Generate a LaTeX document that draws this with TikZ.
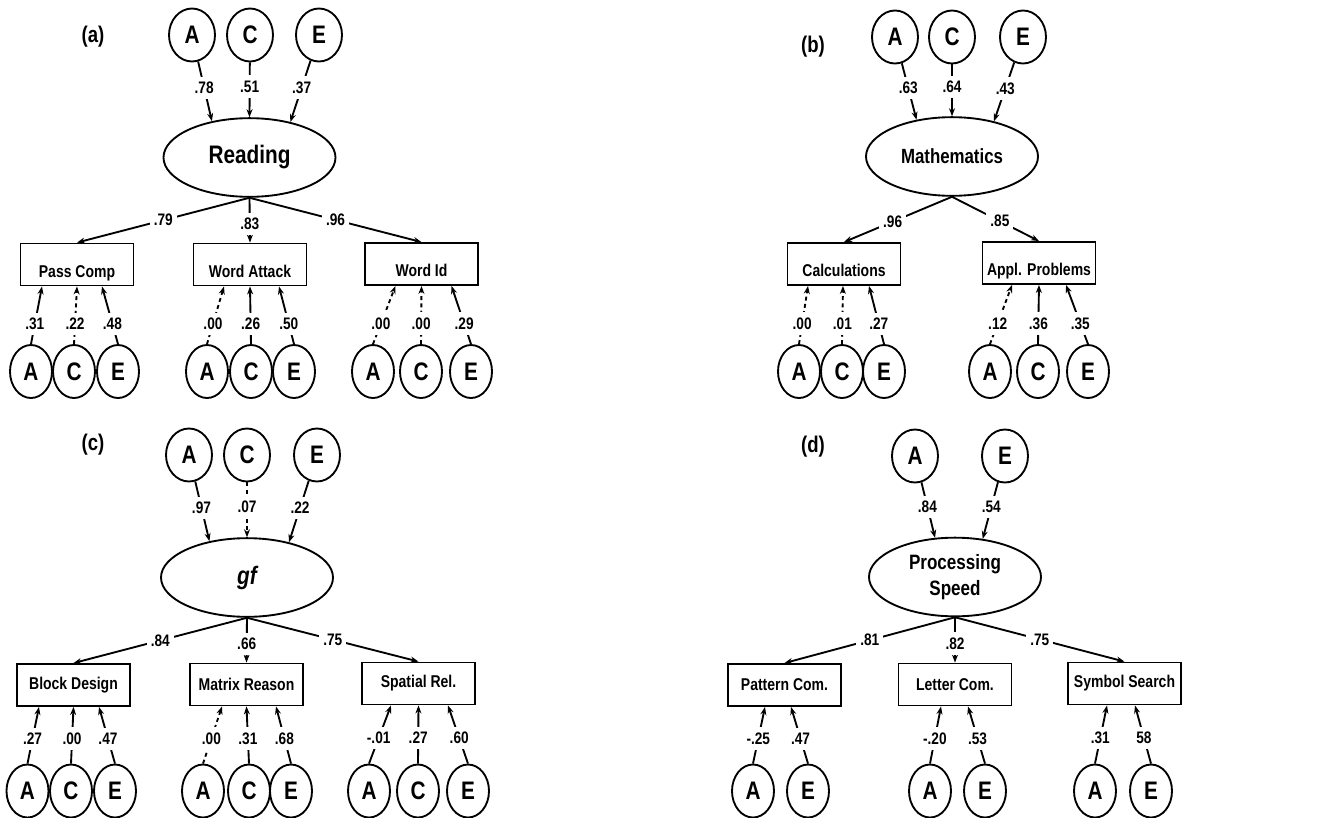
\documentclass[tikz,border=0pt]{standalone}
\usepackage{fontspec}
\setmainfont{Liberation Sans}[FakeStretch=0.82]
\usepackage{tikz}
\usetikzlibrary{shapes,arrows.meta,positioning,calc}

\begin{document}
\begin{tikzpicture}[x=0.75pt, y=-0.75pt, line width=1.4pt,
    topc/.style={draw, ellipse, minimum width=34.5pt, minimum height=39.75pt, inner sep=0pt, font=\fontsize{19}{19}\selectfont\bfseries},
    botc/.style={topc, minimum width=31.5pt},
    latent/.style={draw, ellipse, minimum width=129pt, minimum height=59pt, inner sep=0pt, align=center, font=\fontsize{19}{19}\selectfont\bfseries},
    obs/.style={draw, rectangle, minimum width=84.75pt, minimum height=31.5pt, inner sep=1pt, font=\fontsize{12.8}{13}\selectfont\bfseries},
    lowtext/.style={text height=21pt, text depth=2pt},
    lbl/.style={fill=white, inner xsep=3pt, inner ysep=4pt, font=\fontsize{12.5}{12.5}\selectfont\bfseries},
    paneltag/.style={font=\fontsize{17}{17}\selectfont\bfseries},
    arr/.style={-{Stealth[length=6pt,width=4.5pt]}},
    dsh/.style={dash pattern=on 3pt off 2.5pt}]
    \useasboundingbox (0,0) rectangle (1329,818);

    % (a) reading
    \node[paneltag] (taga) at (93,37) {(a)};
    \node[topc] (aA) at (192,35) {A};
    \node[topc] (aC) at (250,35) {C};
    \node[topc] (aE) at (319,35) {E};
    \node[latent] (read) at (249.5,157.5) {Reading};
    \node[obs, lowtext] (pc) at (77,264.5) {Pass Comp};
    \node[obs, lowtext] (wa) at (250,264.5) {Word Attack};
    \node[obs, lowtext] (wi) at (421.5,264) {Word Id};
    \draw[arr] (aA) -- node[lbl,pos=.44]{.78} (read.136);
    \draw[arr] (aC) -- node[lbl,pos=.44]{.51} (read.north);
    \draw[arr] (aE) -- node[lbl,pos=.44]{.37} (read.41);
    \draw[arr] (read.south) -- node[lbl,pos=.5]{.79} (pc.north);
    \draw[arr] (read.south) -- node[lbl,pos=.58]{.83} (wa.north);
    \draw[arr] (read.south) -- node[lbl,pos=.5]{.96} (wi.north);

    % (b) mathematics
    \node[paneltag] (tagb) at (813,47) {(b)};
    \node[topc] (bA) at (895,37) {A};
    \node[topc] (bC) at (952,37) {C};
    \node[topc] (bE) at (1023,37) {E};
    \node[latent, font=\fontsize{15.4}{16}\selectfont\bfseries] (math) at (952,156.5) {Mathematics};
    \node[obs, lowtext] (calc) at (844,264) {Calculations};
    \node[obs, lowtext] (appl) at (1039,263) {Appl. Problems};
    \draw[arr] (bA) -- node[lbl,pos=.44]{.63} (math.134);
    \draw[arr] (bC) -- node[lbl,pos=.44]{.64} (math.north);
    \draw[arr] (bE) -- node[lbl,pos=.44]{.43} (math.40);
    \draw[arr] (math.south) -- node[lbl,pos=.55]{.96} (calc.north);
    \draw[arr] (math.south) -- node[lbl,pos=.55]{.85} (appl.north);

    % ACE under the measures, top row
    \foreach \bx/\cx/\lt/\dx/\st/\val in {
        pc/31/A/-35/solid/.31, pc/74/C/0/dsh/.22, pc/118/E/25/solid/.48,
        wa/207/A/-26/dsh/.00, wa/251/C/0/solid/.26, wa/294/E/29/solid/.50,
        wi/373/A/-26/dsh/.00, wi/421/C/0/dsh/.00, wi/471/E/30/solid/.29,
        calc/799/A/-36/dsh/.00, calc/842/C/-1/dsh/.01, calc/884/E/25/solid/.27,
        appl/990/A/-27/dsh/.12, appl/1038/C/0/solid/.36, appl/1088/E/27/solid/.35} {
        \node[botc] (\bx\lt) at (\cx,371.5) {\lt};
        \draw[arr,\st] (\bx\lt.north) -- node[lbl,pos=.35]{\val} ([xshift=\dx*0.75pt]\bx.south);
    }

    % (c) gf
    \node[paneltag] (tagc) at (93,445) {(c)};
    \node[topc] (cA) at (189,455) {A};
    \node[topc] (cC) at (247,455) {C};
    \node[topc] (cE) at (317,455) {E};
    \node[latent, font=\fontsize{19}{19}\selectfont\bfseries\itshape] (gf) at (247,577.5) {gf};
    \node[obs] (bd) at (73.5,685) {Block Design};
    \node[obs] (mr) at (246.5,684.5) {Matrix Reason};
    \node[obs] (sr) at (418.5,683.5) {Spatial Rel.};
    \draw[arr] (cA) -- node[lbl,pos=.44]{.97} (gf.136);
    \draw[arr,dsh] (cC) -- node[lbl,pos=.44]{.07} (gf.north);
    \draw[arr] (cE) -- node[lbl,pos=.44]{.22} (gf.40);
    \draw[arr] (gf.south) -- node[lbl,pos=.5]{.84} (bd.north);
    \draw[arr] (gf.south) -- node[lbl,pos=.58]{.66} (mr.north);
    \draw[arr] (gf.south) -- node[lbl,pos=.5]{.75} (sr.north);

    % (d) processing speed
    \node[paneltag] (tagd) at (813,447) {(d)};
    \node[topc] (dA) at (915,456) {A};
    \node[topc] (dE) at (1005,456) {E};
    \node[latent, font=\fontsize{15.6}{19}\selectfont\bfseries] (ps) at (955,577) {Processing\\Speed};
    \node[obs] (pat) at (784.5,685) {Pattern Com.};
    \node[obs] (let) at (955,684.5) {Letter Com.};
    \node[obs] (sym) at (1124.5,683.5) {Symbol Search};
    \draw[arr] (dA) -- node[lbl,pos=.44]{.84} (ps.117);
    \draw[arr] (dE) -- node[lbl,pos=.44]{.54} (ps.54);
    \draw[arr] (ps.south) -- node[lbl,pos=.5]{.81} (pat.north);
    \draw[arr] (ps.south) -- node[lbl,pos=.58]{.82} (let.north);
    \draw[arr] (ps.south) -- node[lbl,pos=.5]{.75} (sym.north);

    % ACE under the measures, bottom row
    \foreach \bx/\cx/\lt/\dx/\st/\val in {
        bd/27.5/A/-34.5/solid/.27, bd/71/C/0/solid/.00, bd/115/E/25.5/solid/.47,
        mr/203/A/-24.5/dsh/.00, mr/249/C/0/solid/.31, mr/291/E/29.5/solid/.68,
        sr/369/A/-27.5/solid/-.01, sr/418/C/0/solid/.27, sr/468/E/29.5/solid/.60,
        pat/753/A/-19.5/solid/-.25, pat/808/E/6.5/solid/.47,
        let/930/A/-14/solid/-.20, let/985/E/13/solid/.53,
        sym/1095/A/-17.5/solid/.31, sym/1151/E/10.5/solid/58} {
        \node[botc] (\bx\lt) at (\cx,791) {\lt};
        \draw[arr,\st] (\bx\lt.north) -- node[lbl,pos=.44]{\val} ([xshift=\dx*0.75pt]\bx.south);
    }
\end{tikzpicture}
\end{document}
